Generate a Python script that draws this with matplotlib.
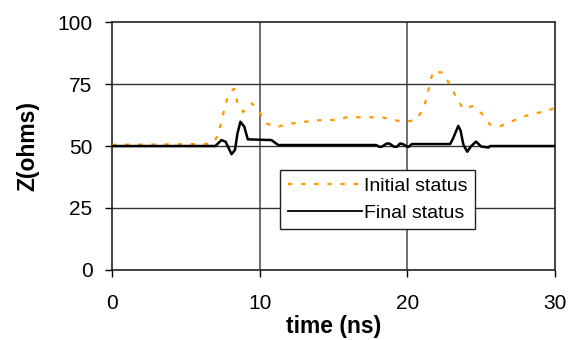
import matplotlib
matplotlib.use('Agg')
import matplotlib.pyplot as plt

plt.rcParams['font.family'] = ['Liberation Sans', 'DejaVu Sans']

# Initial status (orange dotted)
t_init = [0, 6.0, 6.8, 7.2, 7.4, 7.6, 7.8, 8.2, 8.3, 8.5, 8.9, 9.5, 10.0, 10.45,
          11.2, 11.8, 12.7, 13.5, 14.35, 15.2, 15.9, 16.6, 17.4, 18.3, 19.05,
          19.8, 20.6, 21.1, 21.35, 21.5, 21.75, 22.4, 22.5, 22.9, 23.35, 23.8,
          24.4, 25.1, 25.6, 26.2, 26.9, 27.8, 28.6, 29.3, 30]
z_init = [50.5, 50.8, 51, 54.4, 59.8, 64.5, 69, 72.9, 73, 67, 63.7, 67.2, 63.5, 59.1,
          57.6, 58.9, 59.4, 60.2, 60.5, 60.5, 61.6, 61.6, 61.6, 61.6, 60.5,
          59.8, 60.5, 65.2, 70.6, 74.9, 80.2, 79.6, 78.5, 74.6, 69.2, 64.9,
          66.1, 62.8, 58.7, 57.8, 59.5, 61.8, 63.2, 63.8, 65.4]

# Final status (black solid)
t_final = [0, 7.0, 7.42, 7.7, 8.1, 8.33, 8.5, 8.7, 8.96, 9.2, 10.8, 11.26,
           17.9, 18.1, 18.26, 18.6, 18.8, 19.1, 19.3, 19.5, 19.7, 20.0, 20.1, 20.3,
           22.9, 23.1, 23.45, 23.6, 23.8, 24.06, 24.3, 24.65, 25.0, 25.5, 25.6, 30]
z_final = [50, 50, 52.4, 51.7, 46.7, 48.4, 55.1, 59.8, 57.8, 52.7, 52.4, 50.4,
           50.4, 49.7, 49.7, 51, 51, 49.7, 49.7, 51, 50.8, 49.7, 49.7, 50.8,
           50.8, 53.1, 58.1, 56.4, 50.4, 47.7, 49.8, 51.8, 49.8, 49.4, 50, 50]

x_ticks = [0, 10, 20, 30]
y_ticks = [0, 25, 50, 75, 100]

fig = plt.figure(figsize=(5.83, 3.4), dpi=100)
ax = fig.add_axes([0.192, 0.206, 0.760, 0.729])

for x in x_ticks[1:-1]:
    ax.axvline(x, color='#555555', lw=1.2, zorder=1)
for y in y_ticks[1:-1]:
    ax.axhline(y, color='#333333', lw=1.0, zorder=1)

ax.plot(t_init, z_init, color='#FF9900', lw=1.6, linestyle=(0, (2, 3.9)),
        label='Initial status', zorder=3)
ax.plot(t_final, z_final, color='black', lw=1.8, label='Final status', zorder=4)

ax.set_xlim(0, 30)
ax.set_ylim(0, 100)
ax.set_xticks(x_ticks)
ax.set_yticks(y_ticks)
ax.tick_params(direction='out', length=5, width=1, labelsize=15)
ax.tick_params(axis='x', pad=12)
ax.tick_params(axis='y', pad=9)
for s in ax.spines.values():
    s.set_linewidth(1.2)
    s.set_color('#222222')

ax.set_xlabel('time (ns)', fontsize=16.5, fontweight='bold', labelpad=2)
ax.set_ylabel('Z(ohms)', fontsize=16.5, fontweight='bold', labelpad=13)

leg = ax.legend(loc='center', bbox_to_anchor=(0.6, 0.284), fontsize=14,
                handlelength=3.8, handletextpad=0.1, fancybox=False,
                framealpha=1, edgecolor='#222222', borderpad=0.4,
                labelspacing=0.45)
leg.get_frame().set_linewidth(1.0)
leg.get_lines()[1].set_linewidth(1.3)

fig.savefig('out.png', dpi=100)
